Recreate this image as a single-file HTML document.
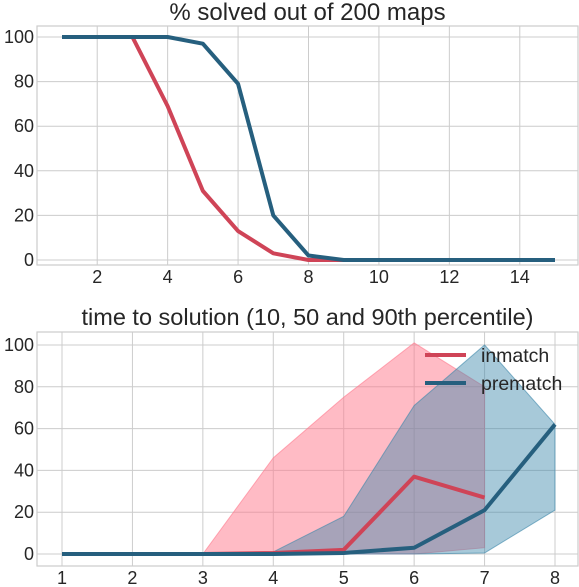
<!DOCTYPE html>
<html><head><meta charset="utf-8"><style>
body{margin:0;background:#fff;}
svg{display:block;font-family:"Liberation Sans",sans-serif;}
</style></head><body>
<svg id="c" width="579" height="587"></svg>
<script>
const topX=[1,2,3,4,5,6,7,8,9,10,11,12,13,14,15];
const topIn=[100,100,100,69,31,13,3,0,0,0,0,0,0,0,0];
const topPre=[100,100,100,100,97,79,20,2,0,0,0,0,0,0,0];
const topXTicks=[2,4,6,8,10,12,14];
const yTicks=[0,20,40,60,80,100];
const botX=[1,2,3,4,5,6,7,8];
const botXIn=[1,2,3,4,5,6,7];
const inMed=[0,0,0,0.5,2,37,27];
const inLo=[0,0,0,0,0,0,3];
const inHi=[0,0,0,46,75,101,80];
const preMed=[0,0,0,0,0.5,3,21,62];
const preLo=[0,0,0,0,0,0,0.5,21];
const preHi=[0,0,0,1,18,71,100,62];
const NS="http://www.w3.org/2000/svg";
const svg=document.getElementById('c');
function mk(t,a,p){const e=document.createElementNS(NS,t);for(const k in a)e.setAttribute(k,a[k]);(p||svg).appendChild(e);return e;}
function panel(name,box,xmin,xmax,ymin,ymax,xt,title,ty,tfs){
  const g=mk('g',{});
  
  
  const sx=v=>box.x0+(v-xmin)/(xmax-xmin)*(box.x1-box.x0);
  const sy=v=>box.y1-(v-ymin)/(ymax-ymin)*(box.y1-box.y0);
  xt.forEach(v=>{const l=mk('line',{x1:sx(v),x2:sx(v),y1:box.t,y2:box.b,stroke:'#cccccc','stroke-width':1},g);
    const t=mk('text',{x:sx(v),y:box.b+18,'text-anchor':'middle','font-size':18,fill:'#262626'},g);t.textContent=v;});
  yTicks.forEach(v=>{const l=mk('line',{x1:box.l,x2:box.r,y1:sy(v),y2:sy(v),stroke:'#cccccc','stroke-width':1},g);
    const t=mk('text',{x:box.l-3,y:sy(v)+6,'text-anchor':'end','font-size':18,fill:'#262626'},g);t.textContent=v;});
  const f=mk('rect',{x:box.l,y:box.t,width:box.r-box.l,height:box.b-box.t,fill:'none',stroke:'#cccccc','stroke-width':1.2},g);
  
  const tt=mk('text',{x:(box.l+box.r)/2,y:ty,'text-anchor':'middle','font-size':tfs,fill:'#262626'},g);tt.textContent=title;
  
  return {g,sx,sy};
}
function line(p,xs,ys,col,name){const e=mk('polyline',{points:xs.map((x,i)=>p.sx(x)+','+p.sy(ys[i])).join(' '),fill:'none',stroke:col,'stroke-width':4,'stroke-linejoin':'round'},p.g);
  }
function band(p,xs,lo,hi,fill,stroke,name){const pts=xs.map((x,i)=>p.sx(x)+','+p.sy(hi[i])).concat(xs.slice().reverse().map((x,j)=>p.sx(x)+','+p.sy(lo[xs.length-1-j])));
  const e=mk('polygon',{points:pts.join(' '),fill:fill,stroke:stroke,'stroke-width':1},p.g);}
const RED='#cf4457',BLUE='#265f7e';
const p1=panel('top-panel',{l:37,r:578,t:26,b:265,x0:62,x1:555,y0:37,y1:260},1,15,0,100,topXTicks,'% solved out of 200 maps',20,24);
line(p1,topX,topIn,RED,'inmatch-line');
line(p1,topX,topPre,BLUE,'prematch-line');
const p2=panel('bottom-panel',{l:37,r:578,t:332,b:566,x0:62,x1:555,y0:345,y1:554},1,8,0,100,botX,'time to solution (10, 50 and 90th percentile)',325,23.5);
band(p2,botXIn,inLo,inHi,'rgba(255,120,140,0.5)','rgba(255,120,140,0.6)','inmatch-band');
band(p2,botX,preLo,preHi,'rgba(60,135,170,0.45)','rgba(60,135,170,0.6)','prematch-band');
line(p2,botXIn,inMed,RED,'inmatch-median-line');
line(p2,botX,preMed,BLUE,'prematch-median-line');
const lg=mk('g',{});
[['inmatch',RED,355],['prematch',BLUE,383]].forEach(([n,c,y])=>{
  const l=mk('line',{x1:425,x2:466,y1:y,y2:y,stroke:c,'stroke-width':4},lg);
  const t=mk('text',{x:481,y:y+7,'font-size':19.5,fill:'#262626'},lg);t.textContent=n;
});
</script>
</body></html>
